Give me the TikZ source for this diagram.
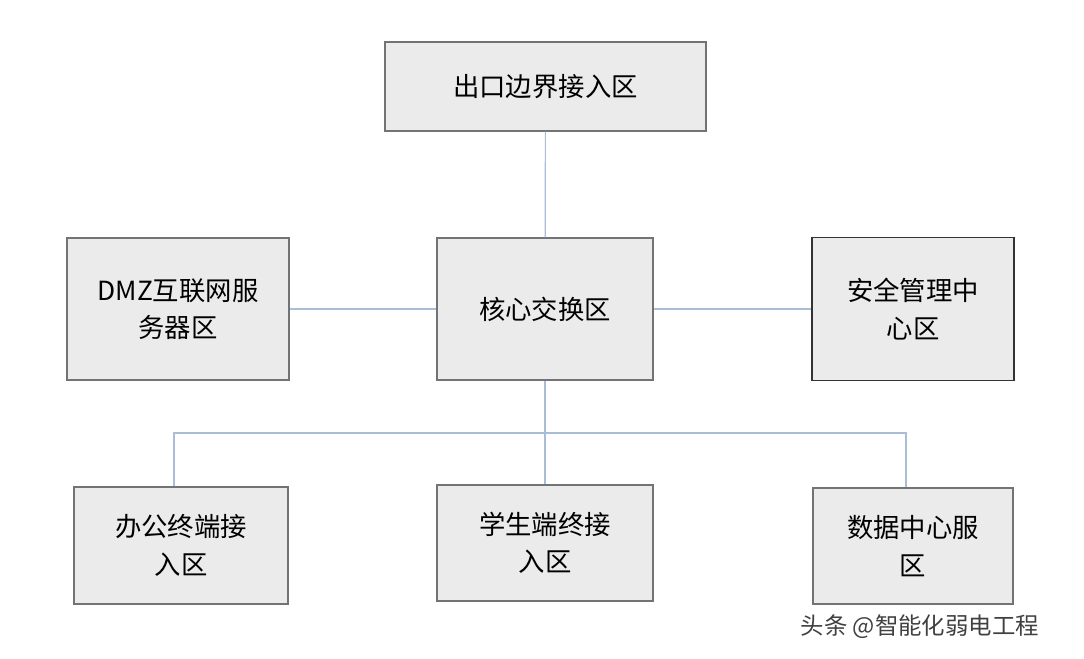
\documentclass[tikz,border=0pt]{standalone}
\usepackage{fontspec}
\setmainfont{Noto Sans CJK SC}
\definecolor{lnk}{HTML}{A9BDD6}
\begin{document}
\begin{tikzpicture}[x=0.03cm,y=-0.03cm,
  box/.style={draw=black!55,line width=1pt,fill=black!8,align=center,inner sep=0pt,font=\fontsize{22.5}{32}\selectfont},
  link/.style={draw=lnk,line width=1pt}]
\useasboundingbox (0,0) rectangle (1084,658);
\node[box,minimum width=321*0.03cm,minimum height=89*0.03cm] (top) at (545.5,86.5) {出口边界接入区};
\node[box,minimum width=222*0.03cm,minimum height=142*0.03cm] (dmz) at (178,309) {DMZ互联网服\\务器区};
\node[box,minimum width=216*0.03cm,minimum height=142*0.03cm] (core) at (545,309) {核心交换区};
\node[box,draw=black!80,minimum width=202*0.03cm,minimum height=143*0.03cm] (sec) at (913,309) {安全管理中\\心区};
\node[box,minimum width=214*0.03cm,minimum height=117*0.03cm] (off) at (181,545.5) {办公终端接\\入区};
\node[box,minimum width=216*0.03cm,minimum height=116*0.03cm] (stu) at (545,543) {学生端终接\\入区};
\node[box,minimum width=200*0.03cm,minimum height=116*0.03cm] (dat) at (913,546) {数据中心服\\区};
\coordinate (bus) at (545,433);
\draw[link] (top) -- (core);
\draw[link] (dmz) -- (core);
\draw[link] (core) -- (sec);
\draw[link] (core) -- (bus);
\draw[link] (off.north -| 174,0) |- (bus) -| (dat.north -| 906,0);
\draw[link] (bus) -- (stu);
\node[text=black!75,font=\fontsize{20}{24}\selectfont] (wm) at (920,627) {头条 @智能化弱电工程};
\end{tikzpicture}
\end{document}
